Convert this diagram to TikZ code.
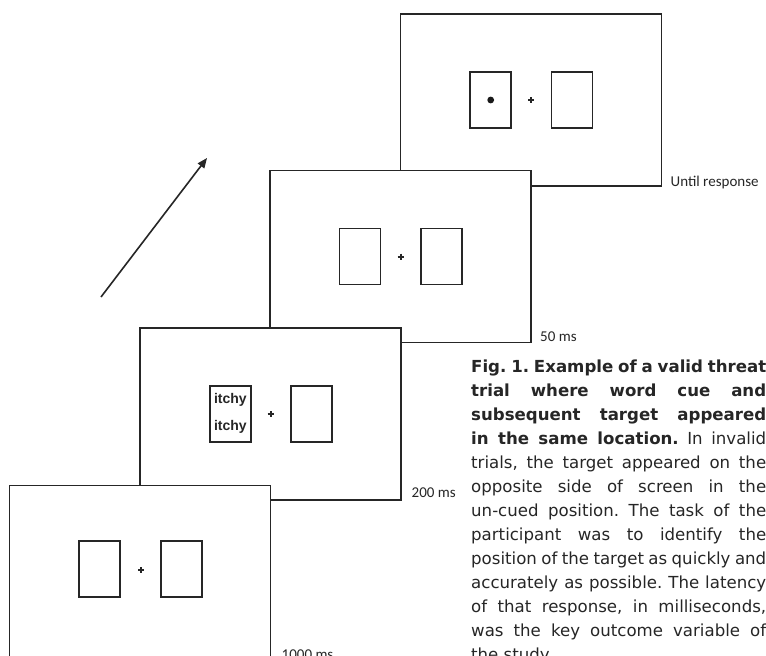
\documentclass[tikz,border=0pt]{standalone}
\usepackage{fontspec}
\setmainfont{DejaVu Sans}
\newfontfamily\labfont{Carlito}
\newfontfamily\cuefont{Liberation Sans}
\newfontfamily\capfont{DejaVu Sans}
\usetikzlibrary{arrows.meta}
\frenchspacing
\tikzset{
  screen/.style={draw=black!85, line width=1.4pt, fill=white, minimum width=261pt, minimum height=172pt, inner sep=0pt},
  placebox/.style={draw=black!85, line width=1.3pt, fill=white, minimum width=41pt, minimum height=56pt, inner sep=0pt},
  fixcross/.style={line width=2pt, black!85},
  timelabel/.style={font=\labfont\fontsize{15}{18}\selectfont, anchor=base west, inner sep=0pt, text=black!85},
  capline/.style={font=\capfont\fontsize{16.6}{24}\selectfont, anchor=base west, inner sep=0pt, text=black!85},
  cueword/.style={font=\cuefont\bfseries\fontsize{14}{16}\selectfont, inner sep=0pt, text=black!85}
}
\newcommand{\fixplus}[2]{\draw[fixcross] (#1-3,#2) -- (#1+3,#2); \draw[fixcross] (#1,#2-3) -- (#1,#2+3);}
\begin{document}
\begin{tikzpicture}[x=1pt,y=-1pt]
\useasboundingbox[fill=white] (0,0) rectangle (766,656);
% screen 4 (back)
\node[screen] (s4) at (531,100) {};
\node[placebox] (s4l) at (490.5,100) {};
\node[placebox] (s4r) at (572,100) {};
\fill[black!90] (490.7,100) circle (3.4);
\fixplus{531}{100}
% screen 3
\node[screen] (s3) at (400.5,256.5) {};
\node[placebox] (s3l) at (360,256.5) {};
\node[placebox] (s3r) at (441.5,256.5) {};
\fixplus{400.5}{256.5}
% screen 2
\node[screen] (s2) at (270.5,414) {};
\node[placebox] (s2l) at (230.4,414) {};
\node[placebox] (s2r) at (311.5,414) {};
\node[cueword, anchor=base] (w1) at (230.4,403) {itchy};
\node[cueword, anchor=base] (w2) at (230.4,430) {itchy};
\fixplus{270.5}{414}
% screen 1 (front)
\node[screen] (s1) at (140,571.5) {};
\node[placebox] (s1l) at (99.5,569) {};
\node[placebox] (s1r) at (181.5,569) {};
\fixplus{141}{570}
% time labels
\node[timelabel] (t4) at (670.5,186) {Until response};
\node[timelabel] (t3) at (540,341) {50 ms};
\node[timelabel] (t2) at (411.5,497) {200 ms};
\node[timelabel] (t1) at (281.5,659.5) {1000 ms};
% arrow
\coordinate (a0) at (101,297);
\coordinate (a1) at (207,158);
\draw[line width=1.6pt, black!85, -{Triangle[length=10pt,width=8pt]}] (a0) -- (a1);
% caption
\foreach \t [count=\i] in {
  {\bfseries Fig. 1. Example of a valid threat},
  {\bfseries trial where word cue and},
  {\bfseries subsequent target appeared},
  {{\bfseries in the same location.} In invalid},
  {trials, the target appeared on the},
  {opposite side of screen in the},
  {un-cued position. The task of the},
  {participant was to identify the},
  {position of the target as quickly and},
  {accurately as possible. The latency},
  {of that response, in milliseconds,},
  {was the key outcome variable of}}
  \node[capline] (c\i) at (471,348+24*\i) {\makebox[295pt][s]{\t}};
\node[capline] (c13) at (471,660) {the study.};
\end{tikzpicture}
\end{document}
